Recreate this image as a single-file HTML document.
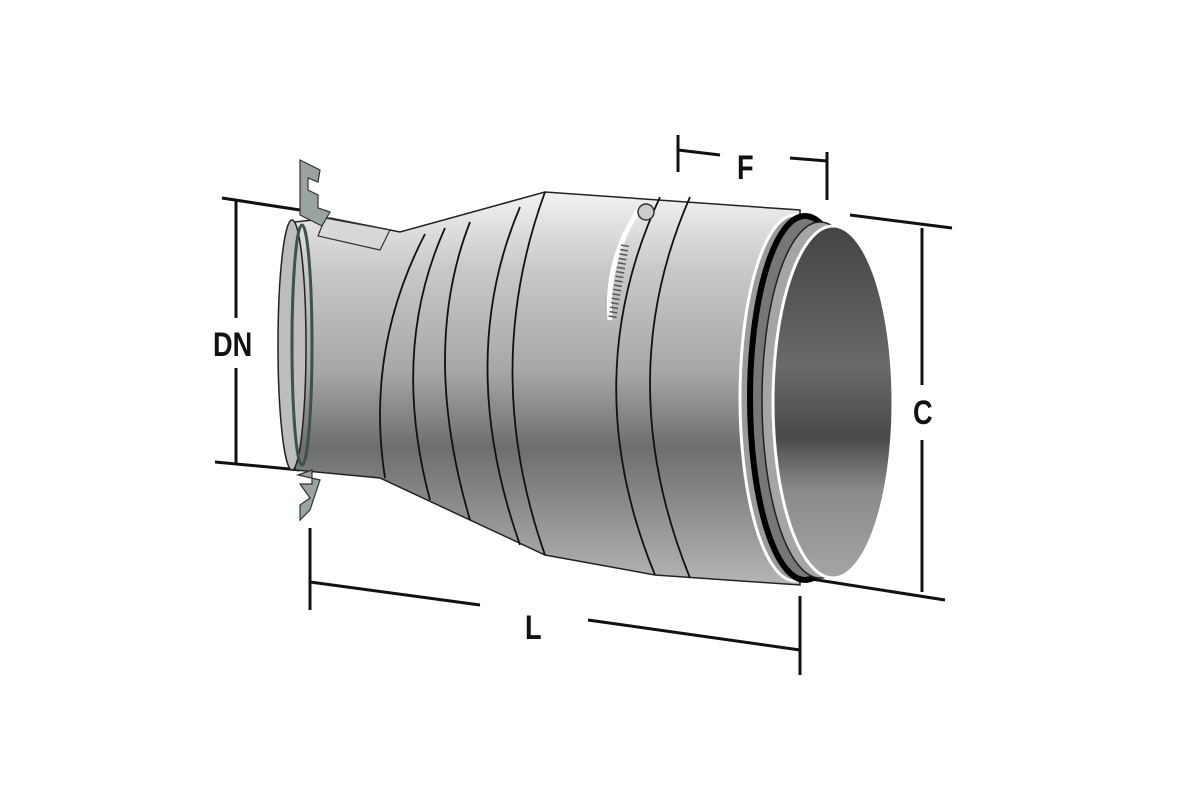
<!DOCTYPE html>
<html><head><meta charset="utf-8"><style>
html,body{margin:0;padding:0;background:#fff}
svg{display:block}
text{font-family:"Liberation Sans",sans-serif;font-weight:bold;fill:#111}
</style></head><body>
<svg width="1181" height="788" viewBox="0 0 1181 788">
<defs>
<linearGradient id="g" x1="0" y1="0" x2="0" y2="1">
<stop offset="0" stop-color="#f2f2f2"/>
<stop offset="0.2" stop-color="#c8c8c8"/>
<stop offset="0.45" stop-color="#a8a8a8"/>
<stop offset="0.65" stop-color="#6e6e6e"/>
<stop offset="0.8" stop-color="#8c8c8c"/>
<stop offset="1" stop-color="#b5b5b5"/>
</linearGradient>
<linearGradient id="gi" x1="0" y1="0" x2="0" y2="1">
<stop offset="0" stop-color="#444"/>
<stop offset="0.4" stop-color="#6a6a6a"/>
<stop offset="0.6" stop-color="#4a4a4a"/>
<stop offset="0.75" stop-color="#8a8a8a"/>
<stop offset="1" stop-color="#a5a5a5"/>
</linearGradient>
</defs>
<g stroke="#111" stroke-width="3" fill="none">
<line x1="222" y1="198" x2="300" y2="210"/>
<line x1="215" y1="462" x2="300" y2="470"/>
<line x1="236" y1="200" x2="236" y2="318"/>
<line x1="236" y1="368" x2="236" y2="464"/>
<line x1="678" y1="135" x2="678" y2="172"/>
<line x1="678" y1="150" x2="720" y2="155"/>
<line x1="790" y1="158" x2="827" y2="161"/>
<line x1="827" y1="152" x2="827" y2="200"/>
<line x1="850" y1="215" x2="952" y2="228"/>
<line x1="805" y1="578" x2="945" y2="600"/>
<line x1="922" y1="228" x2="922" y2="385"/>
<line x1="922" y1="440" x2="922" y2="592"/>
<line x1="310" y1="528" x2="310" y2="610"/>
<line x1="310" y1="582" x2="480" y2="605"/>
<line x1="588" y1="620" x2="800" y2="650"/>
<line x1="800" y1="596" x2="800" y2="675"/>
</g>
<path d="M295 222 L330 218 L400 232 L545 192 L800 210 L800 585 L655 575 L545 555 L380 478 L295 470 Z" fill="url(#g)" stroke="#222" stroke-width="1.5"/>
<ellipse cx="292" cy="345" rx="14" ry="125" fill="#bdbdbd" stroke="#222" stroke-width="1.5"/>
<ellipse cx="302" cy="345" rx="10" ry="120" fill="none" stroke="#3d524c" stroke-width="3"/>
<g fill="none" stroke="#111" stroke-width="1.8">
<path d="M425 234 Q365 350 385 478"/>
<path d="M445 228 Q390 350 430 500"/>
<path d="M470 222 Q420 350 470 520"/>
<path d="M520 207 Q455 360 520 545"/>
<path d="M545 192 Q480 370 545 555"/>
<path d="M660 197 Q575 380 655 575"/>
<path d="M690 197 Q610 380 690 578"/>
</g>
<path d="M325 218 L390 230 L380 250 L318 236 Z" fill="#d8d8d8" stroke="#333" stroke-width="1.2"/>
<path d="M300 160 L320 170 L318 182 L308 178 L308 190 L318 195 L318 208 L330 212 L322 226 L300 215 Z" fill="#9aa3a0" stroke="#333" stroke-width="1.2"/>
<path d="M298 475 L312 470 L312 484 L300 484 L310 498 L300 505 L300 520 L310 510 L320 480 Z" fill="#9aa3a0" stroke="#333" stroke-width="1.2"/>
<path d="M640 208 Q605 260 610 320" fill="none" stroke="#fff" stroke-width="5"/>
<path d="M625 245 L612 320" fill="none" stroke="#555" stroke-width="8" stroke-dasharray="1.5 3"/>
<circle cx="646" cy="212" r="8" fill="#ccc" stroke="#333" stroke-width="1.5"/>
<ellipse cx="795" cy="398" rx="55" ry="183" fill="#9a9a9a" stroke="#fff" stroke-width="3"/>
<ellipse cx="805" cy="398" rx="55" ry="182" fill="#777" stroke="#000" stroke-width="6"/>
<ellipse cx="820" cy="400" rx="58" ry="178" fill="#a5a5a5" stroke="#222" stroke-width="1.5"/>
<ellipse cx="833" cy="402" rx="60" ry="176" fill="url(#gi)" stroke="#fff" stroke-width="3"/>
<text transform="translate(213,356) scale(0.8,1)" font-size="34">DN</text>
<text transform="translate(737,179) scale(0.8,1)" font-size="34">F</text>
<text transform="translate(913,424) scale(0.8,1)" font-size="34">C</text>
<text transform="translate(525,639) scale(0.8,1)" font-size="34">L</text>
</svg>
</body></html>
